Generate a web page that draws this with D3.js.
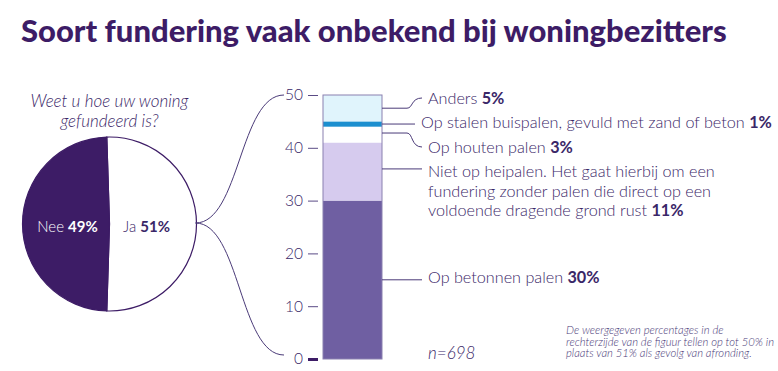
<!DOCTYPE html>
<html>
<head>
<meta charset="utf-8">
<script src="https://cdn.jsdelivr.net/npm/d3@7"></script>
<style>
  body { margin: 0; background: #fff; }
  svg { font-family: Lato, 'Open Sans', sans-serif; }
</style>
</head>
<body>
<svg id="chart"></svg>
<script>
const size = {w: 778, h: 371};
const svg = d3.select('svg#chart')
    .attr('width', size.w)
    .attr('height', size.h);

// DATA
const pieLabels = ['Ja', 'Nee'];
const pieValues = [51, 49];
const barLabels = [
    ['Op betonnen palen'],
    ['Niet op heipalen. Het gaat hierbij om een', 'fundering zonder palen die direct op een', 'voldoende dragende grond rust'],
    ['Op houten palen'],
    ['Op stalen buispalen, gevuld met zand of beton'],
    ['Anders']
];
const barValues = [30, 11, 3, 1, 5];
const tickValues = [0, 10, 20, 30, 40, 50];

const textColor = '#3a2768';
const dark = '#3d1c66';
const barColors = ['#6f5fa2', '#d6cbee', '#ffffff', '#1c8fcf', '#e0f4fc'];

// TITLE
svg.append('text')
    .attr('x', 21).attr('y', 42)
    .attr('fill', dark)
    .style('font-size', '31px')
    .style('font-weight', 900)
    .text('Soort fundering vaak onbekend bij woningbezitters');

// PIE
const pieC = {x: 109.5, y: 224, r: 87};
const pieG = svg.append('g').attr('transform', `translate(${pieC.x},${pieC.y})`);
const offset = (pieValues[0] - pieValues[1]) / 200 * Math.PI;
const pie = d3.pie().sort(null).startAngle(-offset).endAngle(2 * Math.PI - offset);
const arc = d3.arc().innerRadius(0).outerRadius(pieC.r);
const arcs = pie(pieValues);
pieG.selectAll('path')
    .data(arcs)
    .join('path')
    .attr('d', arc)
    .attr('fill', (d, i) => i === 0 ? '#fff' : dark)
    .attr('stroke', dark)
    .attr('stroke-width', 1.2);

pieG.selectAll('text.pl')
    .data(arcs)
    .join('text')
    .classed('pl', true)
    .attr('x', (d, i) => i === 0 ? 37 : -42)
    .attr('y', 8)
    .attr('text-anchor', 'middle')
    .attr('fill', (d, i) => i === 0 ? textColor : '#fff')
    .style('font-size', '15px')
    .each(function(d, i) {
        const t = d3.select(this);
        t.append('tspan').text(pieLabels[i] + ' ').style('font-weight', 300);
        t.append('tspan').text(pieValues[i] + '%').style('font-weight', 700);
    });

svg.append('g').selectAll('text')
    .data(['Weet u hoe uw woning', 'gefundeerd is?'])
    .join('text')
    .attr('x', pieC.x).attr('y', (d, i) => 107 + i * 20)
    .attr('text-anchor', 'middle')
    .attr('fill', textColor)
    .style('font-size', '17px')
    .style('font-style', 'italic')
    .style('font-weight', 300)
    .text(d => d);

// BAR SCALE + AXIS
const y = d3.scaleLinear().domain([0, 50]).range([359, 95]);
const bar = {x0: 323, x1: 382};

const axisG = svg.append('g')
    .attr('transform', 'translate(318,0)')
    .call(d3.axisLeft(y).tickValues(tickValues).tickSize(10).tickPadding(5));
axisG.select('.domain').remove();
axisG.selectAll('.tick line')
    .attr('stroke', d => d === 0 ? dark : '#5a4b85')
    .attr('stroke-width', d => d === 0 ? 3 : 1);
axisG.selectAll('.tick text')
    .attr('fill', textColor)
    .style('font-family', 'Lato, sans-serif')
    .style('font-size', '15.5px')
    .style('font-weight', 300);

// connecting curves from pie to axis
const link = d3.linkHorizontal();
const from = [pieC.x + pieC.r - 1, pieC.y - 1];
svg.append('g').selectAll('path')
    .data([y(50), y(0) - 4])
    .join('path')
    .attr('d', d => link({source: from, target: [284, d]}))
    .attr('fill', 'none')
    .attr('stroke', '#4a3a78')
    .attr('stroke-width', 1);

// stacked bar
const stacked = [];
let acc = 0;
barValues.forEach((v, i) => { stacked.push({i, v, y0: acc, y1: acc + v}); acc += v; });

svg.append('g').selectAll('rect')
    .data(stacked)
    .join('rect')
    .attr('x', bar.x0)
    .attr('width', bar.x1 - bar.x0)
    .attr('y', d => y(d.y1))
    .attr('height', d => y(d.y0) - y(d.y1))
    .attr('fill', d => barColors[d.i]);

svg.append('rect')
    .attr('x', bar.x0).attr('y', y(50))
    .attr('width', bar.x1 - bar.x0).attr('height', y(0) - y(50))
    .attr('fill', 'none')
    .attr('stroke', '#8a80b0')
    .attr('stroke-width', 1);

// LABELS (anchor value on bar, label baseline)
const labelPos = [
    {at: 15, ty: 283, tx: 428, kind: 'line'},
    {at: 36, ty: 177, tx: 428, kind: 'line'},
    {at: 42.8, ty: 153, tx: 428, kind: 'down'},
    {at: 44.5, ty: 128, tx: 421, kind: 'line'},
    {at: 47.5, ty: 104, tx: 428, kind: 'up'}
];

const leaderG = svg.append('g')
    .attr('fill', 'none')
    .attr('stroke', '#4a3a78')
    .attr('stroke-width', 1);

labelPos.forEach((p, i) => {
    const ya = y(p.at);
    if (p.kind === 'line') {
        leaderG.append('path').attr('d', `M${bar.x1},${ya}H${p.tx - 6}`);
    } else {
        const ye = p.ty - 6;
        const mx = 407;
        leaderG.append('path')
            .attr('d', `M${bar.x1},${ya}H${mx}C${mx + 6},${ya} ${mx + 4},${ye} ${p.tx - 6},${ye}`);
    }

    const t = svg.append('text')
        .attr('x', p.tx).attr('y', p.ty)
        .attr('fill', textColor)
        .style('font-size', '16.2px')
        .style('font-weight', 300);
    const lines = barLabels[i];
    lines.forEach((l, j) => {
        const ts = t.append('tspan').attr('x', p.tx).attr('y', p.ty + j * 19.5).text(l);
        if (j === lines.length - 1) {
            ts.text(l + ' ');
            t.append('tspan').text(barValues[i] + '%').style('font-weight', 700);
        }
    });
});

// n
svg.append('text')
    .attr('x', 428).attr('y', 359)
    .attr('fill', textColor)
    .style('font-size', '17px')
    .style('font-style', 'italic')
    .style('font-weight', 300)
    .text('n=698');

// footnote
svg.append('g').selectAll('text')
    .data(['De weergegeven percentages in de', 'rechterzijde van de figuur tellen op tot 50% in', 'plaats van 51% als gevolg van afronding.'])
    .join('text')
    .attr('x', 566).attr('y', (d, i) => 334 + i * 11.5)
    .attr('fill', '#4a3a78')
    .style('font-size', '11.3px')
    .style('font-style', 'italic')
    .style('font-weight', 300)
    .text(d => d);
</script>
</body>
</html>
